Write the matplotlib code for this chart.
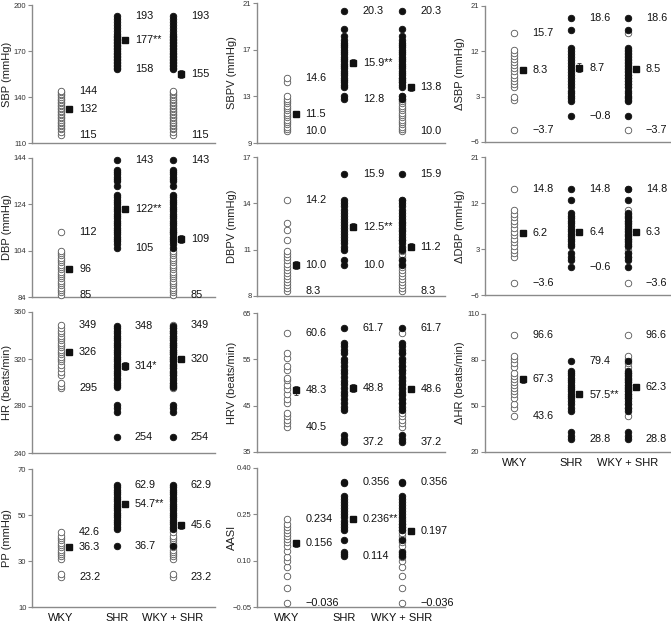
import numpy as np
import matplotlib.pyplot as plt

plt.rcParams['font.family'] = ['Liberation Sans', 'DejaVu Sans']

groups = ['WKY', 'SHR', 'WKY + SHR']

# ---- column 1 ----
sbp_wky = [115, 117, 119, 120, 121, 122, 123, 124, 125, 126, 127, 128, 129, 130, 131,
           132, 133, 134, 135, 136, 137, 138, 139, 140, 141, 142, 143, 144]
sbp_shr = [158, 159, 160, 161, 162, 163, 164, 165, 166, 167, 168, 169, 170, 171, 172,
           173, 174, 175, 176, 177, 178, 179, 180, 181, 183, 185, 187, 189, 191, 193]
sbp_mean = [132, 177, 155]
sbp_sem = [1.2, 1.5, 2.5]
sbp_txt = [['144', '132', '115'], ['193', '177**', '158'], ['193', '155', '115']]

dbp_wky = [85, 86, 87, 88, 89, 90, 91, 92, 93, 94, 95, 96, 97, 98, 99, 100, 101, 102,
           103, 104, 112]
dbp_shr = [105, 107, 108, 109, 110, 111, 112, 113, 114, 115, 116, 117, 118, 119, 120,
           121, 122, 123, 124, 125, 126, 127, 128, 132, 134, 135, 136, 137, 138, 139, 143]
dbp_mean = [96, 122, 109]
dbp_sem = [1.0, 1.3, 1.8]
dbp_txt = [['112', '96', '85'], ['143', '122**', '105'], ['143', '109', '85']]

hr_wky = [295, 297, 300, 306, 309, 312, 315, 318, 320, 322, 324, 326, 328, 330, 332,
          334, 336, 338, 340, 342, 344, 346, 349]
hr_shr = [254, 275, 278, 281, 296, 298, 300, 302, 304, 306, 308, 310, 312, 314, 316,
          318, 320, 322, 324, 326, 328, 330, 332, 334, 336, 338, 340, 342, 344, 346, 348]
hr_mean = [326, 314, 320]
hr_sem = [2.5, 3.5, 2.0]
hr_txt = [['349', '326', '295'], ['348', '314*', '254'], ['349', '320', '254']]

pp_wky = [23.2, 24.2, 31.0, 32.0, 33.0, 34.0, 35.0, 36.0, 37.0, 38.0, 39.0, 40.0, 41.0, 42.6]
pp_shr = [36.7, 44.0, 45.0, 46.0, 47.0, 48.0, 49.0, 50.0, 51.0, 52.0, 53.0, 54.0, 55.0,
          56.0, 57.0, 58.0, 59.0, 60.0, 61.0, 62.0, 62.9]
pp_mean = [36.3, 54.7, 45.6]
pp_sem = [0.8, 1.0, 1.5]
pp_txt = [['42.6', '36.3', '23.2'], ['62.9', '54.7**', '36.7'], ['62.9', '45.6', '23.2']]

# ---- column 2 ----
sbpv_wky = [10.0, 10.2, 10.4, 10.6, 10.8, 11.0, 11.2, 11.4, 11.6, 11.8, 12.0, 12.2, 12.4,
            12.6, 12.8, 13.0, 14.2, 14.6]
sbpv_shr = [12.8, 13.0, 13.8, 14.0, 14.2, 14.4, 14.6, 14.8, 15.0, 15.2, 15.4, 15.6, 15.8,
            16.0, 16.2, 16.4, 16.6, 16.8, 17.0, 17.2, 17.4, 17.6, 17.8, 18.2, 18.8, 20.3]
sbpv_mean = [11.5, 15.9, 13.8]
sbpv_sem = [0.25, 0.3, 0.3]
sbpv_txt = [['14.6', '11.5', '10.0'], ['20.3', '15.9**', '12.8'], ['20.3', '13.8', '10.0']]

dbpv_wky = [8.3, 8.5, 8.7, 8.9, 9.1, 9.3, 9.5, 9.7, 9.9, 10.1, 10.3, 10.5, 10.7, 10.9,
            11.6, 12.3, 12.7, 14.2]
dbpv_shr = [10.0, 10.3, 11.0, 11.2, 11.4, 11.6, 11.8, 12.0, 12.2, 12.4, 12.6, 12.8, 13.0,
            13.2, 13.4, 13.6, 13.8, 14.0, 14.2, 15.9]
dbpv_mean = [10.0, 12.5, 11.2]
dbpv_sem = [0.25, 0.25, 0.2]
dbpv_txt = [['14.2', '10.0', '8.3'], ['15.9', '12.5**', '10.0'], ['15.9', '11.2', '8.3']]

hrv_wky = [40.5, 41.2, 42.0, 42.8, 43.5, 45.5, 46.5, 47.5, 48.5, 49.5, 50.5, 51.0, 52.8,
           53.5, 55.2, 56.3, 60.6]
hrv_shr = [37.2, 37.8, 38.6, 44.0, 44.8, 45.6, 46.4, 47.2, 48.0, 48.8, 49.6, 50.4, 51.2,
           52.0, 52.8, 53.6, 54.4, 55.0, 56.3, 57.0, 57.8, 58.5, 61.7]
hrv_mean = [48.3, 48.8, 48.6]
hrv_sem = [1.0, 0.8, 0.6]
hrv_txt = [['60.6', '48.3', '40.5'], ['61.7', '48.8', '37.2'], ['61.7', '48.6', '37.2']]

aasi_wky = [-0.036, 0.013, 0.049, 0.080, 0.098, 0.112, 0.130, 0.146, 0.160, 0.170, 0.180,
            0.190, 0.200, 0.210, 0.220, 0.234]
aasi_shr = [0.114, 0.120, 0.128, 0.167, 0.200, 0.210, 0.220, 0.230, 0.240, 0.250, 0.260,
            0.270, 0.280, 0.290, 0.300, 0.310, 0.350, 0.356]
aasi_mean = [0.156, 0.236, 0.197]
aasi_sem = [0.012, 0.010, 0.009]
aasi_txt = [['0.234', '0.156', '\u22120.036'], ['0.356', '0.236**', '0.114'],
            ['0.356', '0.197', '\u22120.036']]

# ---- column 3 ----
dsbp_wky = [-3.7, 2.4, 2.9, 5.0, 5.6, 6.2, 6.8, 7.4, 8.0, 8.6, 9.2, 9.8, 10.4, 11.0, 11.6,
            12.2, 15.7]
dsbp_shr = [-0.8, 2.2, 2.7, 3.2, 3.7, 4.2, 5.0, 5.5, 6.1, 6.7, 7.3, 7.9, 8.5, 9.1, 9.7,
            10.3, 10.9, 11.5, 12.1, 12.7, 16.3, 18.6]
dsbp_mean = [8.3, 8.7, 8.5]
dsbp_sem = [0.6, 0.9, 0.5]
dsbp_txt = [['15.7', '8.3', '\u22123.7'], ['18.6', '8.7', '\u22120.8'], ['18.6', '8.5', '\u22123.7']]

ddbp_wky = [-3.6, 1.5, 2.2, 2.9, 3.6, 4.3, 5.0, 5.7, 6.4, 7.1, 7.8, 8.5, 9.2, 9.9, 10.6, 14.8]
ddbp_shr = [-0.6, 0.9, 1.5, 2.2, 3.5, 4.0, 4.5, 5.0, 5.5, 6.0, 6.5, 7.0, 7.5, 8.0, 8.5, 9.0,
            9.5, 10.0, 12.5, 14.8]
ddbp_mean = [6.2, 6.4, 6.3]
ddbp_sem = [0.6, 0.5, 0.4]
ddbp_txt = [['14.8', '6.2', '\u22123.6'], ['14.8', '6.4', '\u22120.6'], ['14.8', '6.3', '\u22123.6']]

dhr_wky = [43.6, 48.5, 51.0, 55.5, 57.5, 59.5, 61.5, 63.5, 65.5, 67.5, 69.5, 71.5, 75.5,
           78.0, 80.5, 82.5, 96.6]
dhr_shr = [28.8, 30.5, 33.0, 47.0, 49.0, 51.0, 53.0, 55.0, 56.5, 58.0, 59.5, 61.0, 62.5,
           64.0, 65.5, 67.0, 68.5, 70.0, 71.5, 72.5, 79.4]
dhr_mean = [67.3, 57.5, 62.3]
dhr_sem = [2.0, 1.8, 1.3]
dhr_txt = [['96.6', '67.3', '43.6'], ['79.4', '57.5**', '28.8'], ['96.6', '62.3', '28.8']]

# (column, row, ylabel, yticks, tick labels, wky, shr, mean, sem, text)
panels = [
    (0, 0, 'SBP (mmHg)', [110, 140, 170, 200], None, sbp_wky, sbp_shr, sbp_mean, sbp_sem, sbp_txt),
    (0, 1, 'DBP (mmHg)', [84, 104, 124, 144], None, dbp_wky, dbp_shr, dbp_mean, dbp_sem, dbp_txt),
    (0, 2, 'HR (beats/min)', [240, 280, 320, 360], None, hr_wky, hr_shr, hr_mean, hr_sem, hr_txt),
    (0, 3, 'PP (mmHg)', [10, 30, 50, 70], None, pp_wky, pp_shr, pp_mean, pp_sem, pp_txt),
    (1, 0, 'SBPV (mmHg)', [9, 13, 17, 21], None, sbpv_wky, sbpv_shr, sbpv_mean, sbpv_sem, sbpv_txt),
    (1, 1, 'DBPV (mmHg)', [8, 11, 14, 17], None, dbpv_wky, dbpv_shr, dbpv_mean, dbpv_sem, dbpv_txt),
    (1, 2, 'HRV (beats/min)', [35, 45, 55, 65], None, hrv_wky, hrv_shr, hrv_mean, hrv_sem, hrv_txt),
    (1, 3, 'AASI', [-0.05, 0.10, 0.25, 0.40], ['\u22120.05', '0.10', '0.25', '0.40'],
     aasi_wky, aasi_shr, aasi_mean, aasi_sem, aasi_txt),
    (2, 0, '\u0394SBP (mmHg)', [-6, 3, 12, 21], None, dsbp_wky, dsbp_shr, dsbp_mean, dsbp_sem, dsbp_txt),
    (2, 1, '\u0394DBP (mmHg)', [-6, 3, 12, 21], None, ddbp_wky, ddbp_shr, ddbp_mean, ddbp_sem, ddbp_txt),
    (2, 2, '\u0394HR (beats/min)', [20, 50, 80, 110], None, dhr_wky, dhr_shr, dhr_mean, dhr_sem, dhr_txt),
]

W, H = 671, 622
cols = [(32, 215), (257, 445), (485, 670)]
rows = [[(5, 143), (158, 297), (312, 453), (469, 607)],
        [(3, 143), (157, 296), (313, 452), (468, 607)],
        [(6, 142), (157, 295), (314, 452)]]

fig = plt.figure(figsize=(W / 100, H / 100), dpi=100)

for c, r, ylab, ticks, tlabels, wky, shr, mean, sem, txt in panels:
    l, rr = cols[c]
    t, b = rows[c][r]
    ax = fig.add_axes([l / W, 1 - b / H, (rr - l) / W, (b - t) / H])
    ax.set_xlim(0.48, 3.75)
    ax.set_ylim(ticks[0], ticks[-1])
    ax.set_yticks(ticks)
    if tlabels:
        ax.set_yticklabels(tlabels)
    for s in ['top', 'right']:
        ax.spines[s].set_visible(False)
    for s in ['left', 'bottom']:
        ax.spines[s].set_color('#8a8a8a')
        ax.spines[s].set_linewidth(1.0)
    ax.tick_params(axis='y', direction='out', length=3, width=0.8, color='#8a8a8a',
                   labelcolor='#333333', labelsize=5.5, pad=1)
    ax.tick_params(axis='x', length=0, labelsize=8, labelcolor='#111111', pad=4)
    if r == len(rows[c]) - 1:
        ax.set_xticks([1, 2, 3])
        ax.set_xticklabels(groups)
    else:
        ax.set_xticks([])
    ax.set_ylabel(ylab, fontsize=8, color='#222222')
    ax.yaxis.set_label_coords(-20 / (rr - l), 0.5)

    open_kw = dict(s=22, facecolor='white', edgecolor='#555555', linewidths=0.6,
                   zorder=3, clip_on=False)
    fill_kw = dict(s=22, facecolor='#111111', edgecolor='#111111', linewidths=0.6,
                   zorder=4, clip_on=False)
    ax.scatter([1] * len(wky), wky, **open_kw)
    ax.scatter([2] * len(shr), shr, **fill_kw)
    ax.scatter([3] * len(wky), wky, **open_kw)
    ax.scatter([3] * len(shr), shr, **fill_kw)

    both = wky + shr
    tops = [max(wky), max(shr), max(both)]
    bots = [min(wky), min(shr), min(both)]
    for i in range(3):
        x = i + 1
        ax.errorbar(x + 0.15, mean[i], yerr=sem[i], fmt='s', ms=4.2, color='#111111',
                    ecolor='#444444', elinewidth=0.7, capsize=1.6, capthick=0.7, zorder=5)
        for val, s in zip([tops[i], mean[i], bots[i]], txt[i]):
            ax.text(x + 0.32, val, s, fontsize=7.8, ha='left', va='center', color='#111111')

plt.savefig('out.png', dpi=100)
